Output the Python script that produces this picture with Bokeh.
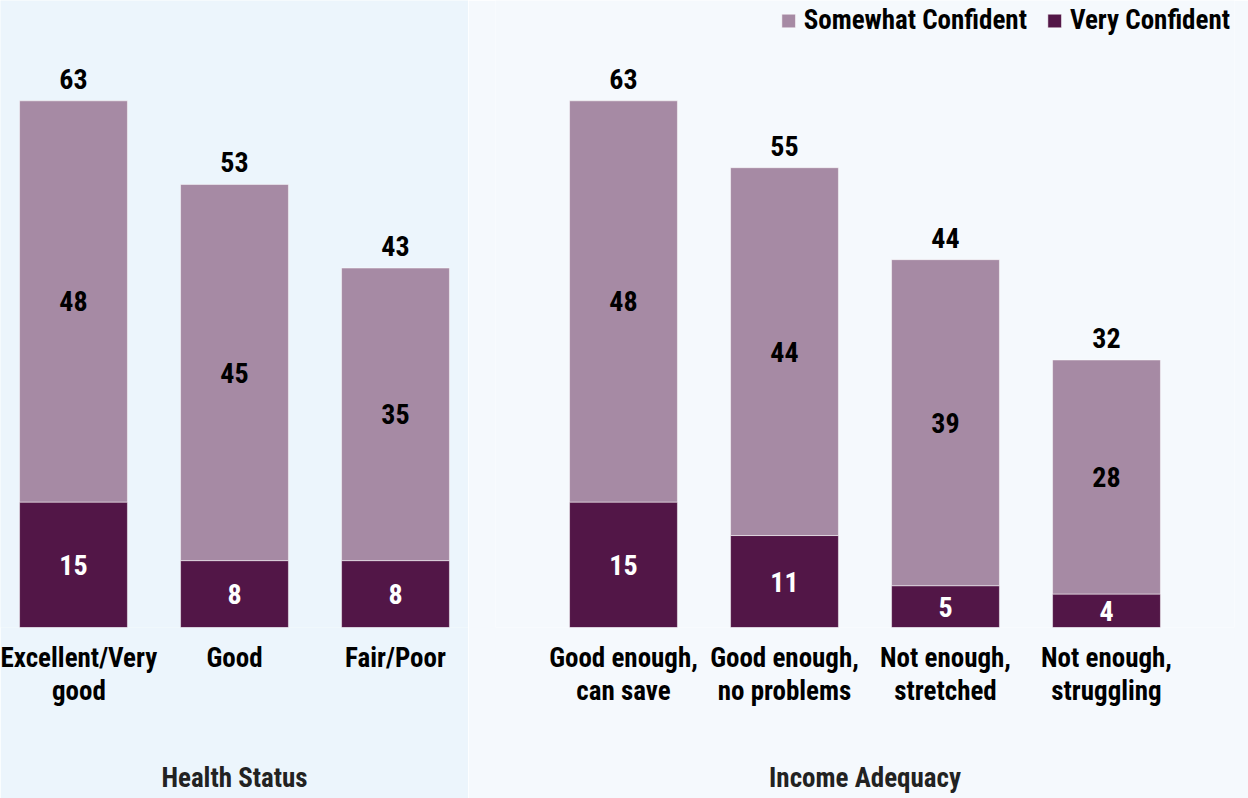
from bokeh.plotting import figure
from bokeh.models import FactorRange, Range1d, Legend, LegendItem, ColumnDataSource, LabelSet
from bokeh.core.properties import value
from bokeh.layouts import row
from bokeh.embed import file_html
from bokeh.resources import INLINE

# ---- data ----
health_cats = ["Excellent/Very\ngood", "Good", "Fair/Poor"]
health_very = [15, 8, 8]
health_some = [48, 45, 35]
health_total = [63, 53, 43]

income_cats = ["Good enough,\ncan save", "Good enough,\nno problems", "Not enough,\nstretched", "Not enough,\nstruggling"]
income_very = [15, 11, 5, 4]
income_some = [48, 44, 39, 28]
income_total = [63, 55, 44, 32]

series_names = ["Very Confident", "Somewhat Confident"]
group_titles = ["Health Status", "Income Adequacy"]

# ---- style ----
FONT = "Roboto Condensed, DejaVu Sans Condensed, sans-serif"
FS = "27px"
FS_NUM = "28px"
C_SOME = "#a68aa4"
C_VERY = "#521647"
BG1 = "#ecf5fc"
BG2 = "#f5f9fd"
H = 798
Y_MAX = 75


def make_fig(cats, very, some, total, title, width, bg, pad, left, right):
    src = ColumnDataSource(dict(
        cat=cats, very=very, some=some, total=total,
        very_mid=[v / 2 for v in very],
        some_mid=[v + s / 2 for v, s in zip(very, some)],
        very_txt=[str(v) for v in very],
        some_txt=[str(s) for s in some],
        total_txt=[str(t) for t in total],
    ))
    p = figure(x_range=FactorRange(*cats, range_padding=pad, range_padding_units="absolute"),
               y_range=Range1d(0, Y_MAX), width=width, height=H,
               output_backend="svg", toolbar_location=None,
               min_border_left=left, min_border_right=right, min_border_top=0, min_border_bottom=171)
    rs = p.vbar_stack(["very", "some"], x="cat", width=0.67, source=src,
                      color=[C_VERY, C_SOME], line_color="#ffffff", line_alpha=0.5, line_width=1)
    p.background_fill_color = bg
    p.border_fill_color = bg
    p.outline_line_color = None
    p.grid.visible = False
    p.yaxis.visible = False
    ax = p.xaxis[0]
    ax.axis_line_color = None
    ax.major_tick_line_color = None
    ax.minor_tick_line_color = None
    ax.major_tick_out = 0
    ax.major_label_standoff = 14
    ax.major_label_text_font = FONT
    ax.major_label_text_font_size = FS
    ax.major_label_text_font_style = "bold"
    ax.major_label_text_color = "#000000"
    ax.major_label_text_line_height = 1.05
    ax.axis_label = title
    ax.axis_label_standoff = 52
    ax.axis_label_text_font = FONT
    ax.axis_label_text_font_size = FS
    ax.axis_label_text_font_style = "bold"
    ax.axis_label_text_color = "#222222"

    common = dict(source=src, x="cat", text_font=value(FONT), text_font_size=value(FS_NUM),
                  text_font_style="bold", text_align="center")
    p.add_layout(LabelSet(y="very_mid", text="very_txt", text_color="#ffffff",
                          text_baseline="middle", **common))
    p.add_layout(LabelSet(y="some_mid", text="some_txt", text_color="#000000",
                          text_baseline="middle", **common))
    p.add_layout(LabelSet(y="total", text="total_txt", text_color="#000000",
                          text_baseline="alphabetic", y_offset=12, **common))
    return p, rs


p1, _ = make_fig(health_cats, health_very, health_some, health_total, group_titles[0],
                 468, BG1, -0.0466, 0, 0)
p2, rs2 = make_fig(income_cats, income_very, income_some, income_total, group_titles[1],
                   780, BG2, 0.295, 27, 14)

legend = Legend(items=[LegendItem(label=series_names[1], renderers=[rs2[1]]),
                       LegendItem(label=series_names[0], renderers=[rs2[0]])],
                location="top_right", orientation="horizontal",
                glyph_width=17, glyph_height=17, label_standoff=7, spacing=19,
                padding=0, margin=4, background_fill_alpha=0, border_line_color=None,
                label_text_font=FONT, label_text_font_size=FS,
                label_text_font_style="bold", label_text_color="#000000")
p2.add_layout(legend)

layout = row(p1, p2, spacing=0)
open("out.html", "w").write(file_html(layout, INLINE))
